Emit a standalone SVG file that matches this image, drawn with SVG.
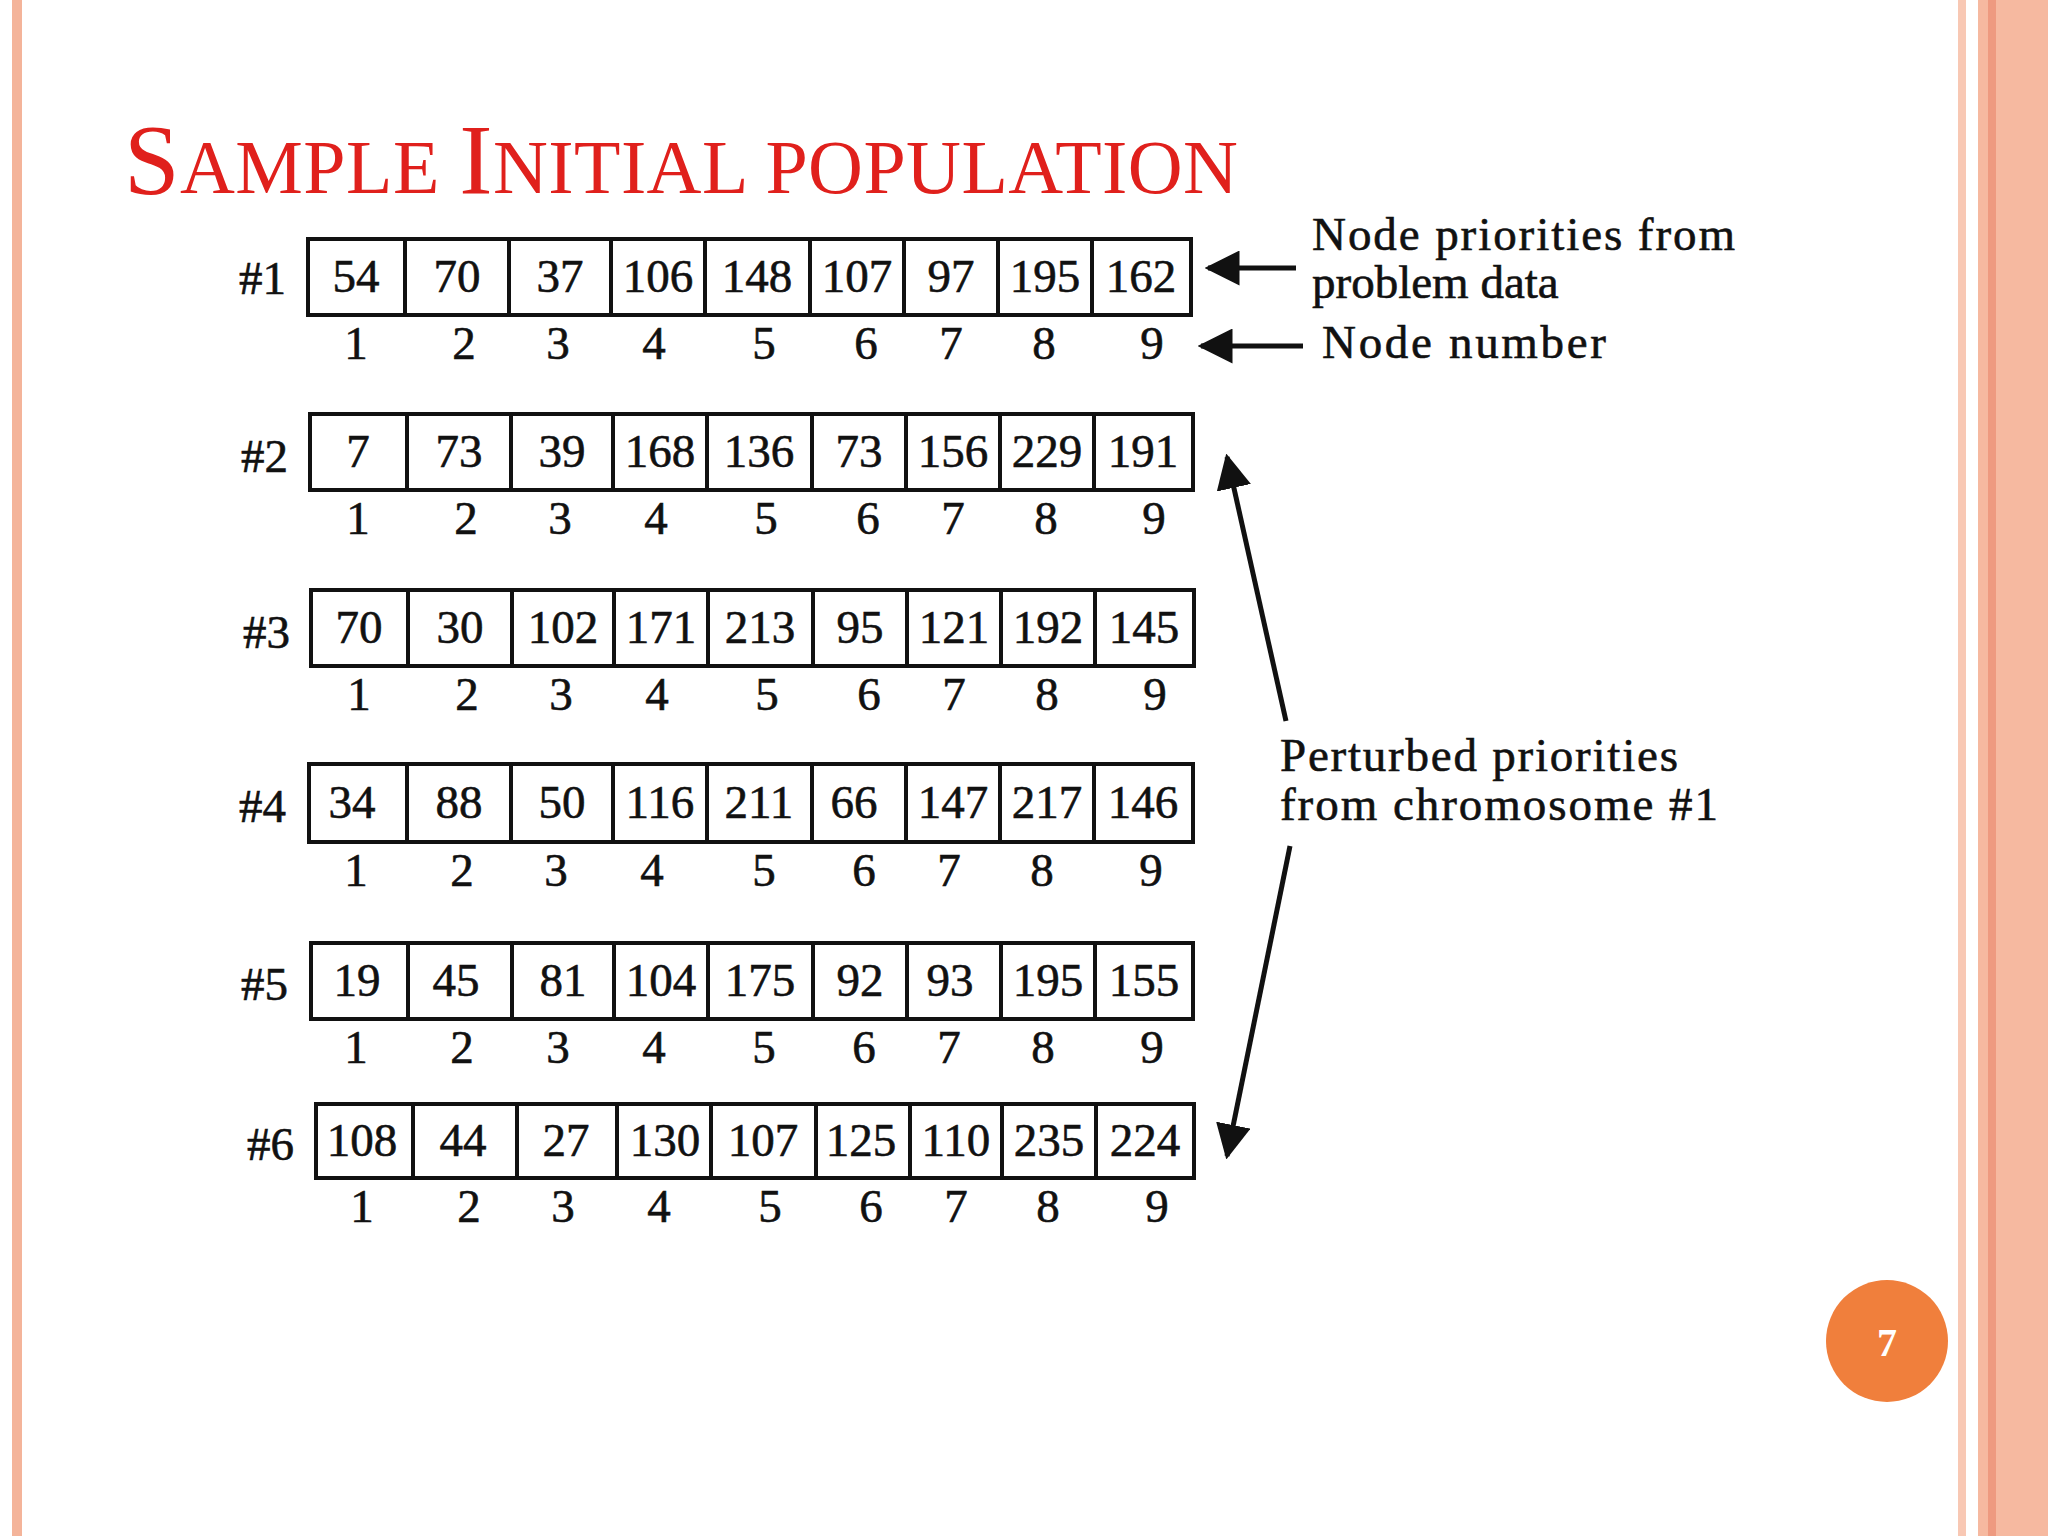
<svg xmlns="http://www.w3.org/2000/svg" width="2048" height="1536" viewBox="0 0 2048 1536">
<style>
.t{font-family:"Liberation Serif",serif;font-size:47px;fill:#111;text-anchor:middle;stroke:#111;stroke-width:0.6}
.l{font-family:"Liberation Serif",serif;font-size:47px;fill:#111;stroke:#111;stroke-width:0.6}
.c{fill:#fff;stroke:#111;stroke-width:4}
.a{stroke:#111;stroke-width:5;fill:none}
</style>
<defs><marker id="ah" viewBox="0 0 10 10" refX="9" refY="5" markerWidth="7" markerHeight="7" orient="auto"><path d="M0,0L10,5L0,10z" fill="#111"/></marker></defs>
<rect width="2048" height="1536" fill="#fff"/>
<rect x="12" y="0" width="10" height="1536" fill="#f4b49a"/>
<rect x="1958" y="0" width="8" height="1536" fill="#f8c8b4"/>
<rect x="1978" y="0" width="70" height="1536" fill="#f6b9a0"/>
<rect x="1988" y="0" width="8" height="1536" fill="#ee9a80"/>
<text x="124" y="193" font-family="Liberation Serif,serif" fill="#e0201c" font-size="100" textLength="1114" lengthAdjust="spacing">S<tspan font-size="76">AMPLE </tspan>I<tspan font-size="76">NITIAL POPULATION</tspan></text>
<g id="row1"><text class="l" x="239" y="294">#1</text>
<rect class="c" x="308" y="239" width="883" height="76"/>
<path class="a" d="M405,239V315M509,239V315M611,239V315M705,239V315M810,239V315M904,239V315M998,239V315M1092,239V315" style="stroke-width:4"/>
<text class="t" y="292"><tspan x="356">54</tspan><tspan x="457">70</tspan><tspan x="560">37</tspan><tspan x="658">106</tspan><tspan x="757">148</tspan><tspan x="857">107</tspan><tspan x="951">97</tspan><tspan x="1045">195</tspan><tspan x="1141">162</tspan></text>
<text class="t" y="359"><tspan x="356">1</tspan><tspan x="464">2</tspan><tspan x="558">3</tspan><tspan x="654">4</tspan><tspan x="764">5</tspan><tspan x="866">6</tspan><tspan x="951">7</tspan><tspan x="1044">8</tspan><tspan x="1152">9</tspan></text></g>
<g id="row2"><text class="l" x="241" y="472">#2</text>
<rect class="c" x="310" y="414" width="883" height="76"/>
<path class="a" d="M407,414V490M511,414V490M613,414V490M707,414V490M812,414V490M906,414V490M1000,414V490M1094,414V490" style="stroke-width:4"/>
<text class="t" y="467"><tspan x="358">7</tspan><tspan x="459">73</tspan><tspan x="562">39</tspan><tspan x="660">168</tspan><tspan x="759">136</tspan><tspan x="859">73</tspan><tspan x="953">156</tspan><tspan x="1047">229</tspan><tspan x="1143">191</tspan></text>
<text class="t" y="534"><tspan x="358">1</tspan><tspan x="466">2</tspan><tspan x="560">3</tspan><tspan x="656">4</tspan><tspan x="766">5</tspan><tspan x="868">6</tspan><tspan x="953">7</tspan><tspan x="1046">8</tspan><tspan x="1154">9</tspan></text></g>
<g id="row3"><text class="l" x="243" y="648">#3</text>
<rect class="c" x="311" y="590" width="883" height="76"/>
<path class="a" d="M408,590V666M512,590V666M614,590V666M708,590V666M813,590V666M907,590V666M1001,590V666M1095,590V666" style="stroke-width:4"/>
<text class="t" y="643"><tspan x="359">70</tspan><tspan x="460">30</tspan><tspan x="563">102</tspan><tspan x="661">171</tspan><tspan x="760">213</tspan><tspan x="860">95</tspan><tspan x="954">121</tspan><tspan x="1048">192</tspan><tspan x="1144">145</tspan></text>
<text class="t" y="710"><tspan x="359">1</tspan><tspan x="467">2</tspan><tspan x="561">3</tspan><tspan x="657">4</tspan><tspan x="767">5</tspan><tspan x="869">6</tspan><tspan x="954">7</tspan><tspan x="1047">8</tspan><tspan x="1155">9</tspan></text></g>
<g id="row4"><text class="l" x="239" y="822">#4</text>
<rect class="c" x="309" y="764" width="884" height="78"/>
<path class="a" d="M407,764V842M511,764V842M613,764V842M707,764V842M812,764V842M906,764V842M1000,764V842M1094,764V842" style="stroke-width:4"/>
<text class="t" y="818"><tspan x="352">34</tspan><tspan x="459">88</tspan><tspan x="562">50</tspan><tspan x="660">116</tspan><tspan x="759">211</tspan><tspan x="854">66</tspan><tspan x="953">147</tspan><tspan x="1047">217</tspan><tspan x="1143">146</tspan></text>
<text class="t" y="886"><tspan x="356">1</tspan><tspan x="462">2</tspan><tspan x="556">3</tspan><tspan x="652">4</tspan><tspan x="764">5</tspan><tspan x="864">6</tspan><tspan x="949">7</tspan><tspan x="1042">8</tspan><tspan x="1151">9</tspan></text></g>
<g id="row5"><text class="l" x="241" y="1000">#5</text>
<rect class="c" x="311" y="943" width="882" height="76"/>
<path class="a" d="M408,943V1019M512,943V1019M614,943V1019M708,943V1019M813,943V1019M907,943V1019M1001,943V1019M1095,943V1019" style="stroke-width:4"/>
<text class="t" y="996"><tspan x="357">19</tspan><tspan x="456">45</tspan><tspan x="563">81</tspan><tspan x="661">104</tspan><tspan x="760">175</tspan><tspan x="860">92</tspan><tspan x="950">93</tspan><tspan x="1048">195</tspan><tspan x="1144">155</tspan></text>
<text class="t" y="1063"><tspan x="356">1</tspan><tspan x="462">2</tspan><tspan x="558">3</tspan><tspan x="654">4</tspan><tspan x="764">5</tspan><tspan x="864">6</tspan><tspan x="949">7</tspan><tspan x="1043">8</tspan><tspan x="1152">9</tspan></text></g>
<g id="row6"><text class="l" x="247" y="1160">#6</text>
<rect class="c" x="316" y="1104" width="878" height="74"/>
<path class="a" d="M413,1104V1178M517,1104V1178M617,1104V1178M711,1104V1178M816,1104V1178M910,1104V1178M1002,1104V1178M1096,1104V1178" style="stroke-width:4"/>
<text class="t" y="1156"><tspan x="362">108</tspan><tspan x="463">44</tspan><tspan x="566">27</tspan><tspan x="665">130</tspan><tspan x="763">107</tspan><tspan x="861">125</tspan><tspan x="956">110</tspan><tspan x="1049">235</tspan><tspan x="1145">224</tspan></text>
<text class="t" y="1222"><tspan x="362">1</tspan><tspan x="469">2</tspan><tspan x="563">3</tspan><tspan x="659">4</tspan><tspan x="770">5</tspan><tspan x="871">6</tspan><tspan x="956">7</tspan><tspan x="1048">8</tspan><tspan x="1157">9</tspan></text></g>
<g id="notes">
<text class="l" x="1312" y="250" textLength="423">Node priorities from</text>
<text class="l" x="1312" y="298">problem data</text>
<text class="l" x="1322" y="358" textLength="284">Node number</text>
<text class="l" x="1280" y="771" textLength="398">Perturbed priorities</text>
<text class="l" x="1280" y="820" textLength="438">from chromosome #1</text>
</g>
<g id="connectors">
<line class="a" x1="1296" y1="268" x2="1208" y2="268" marker-end="url(#ah)"/>
<line class="a" x1="1303" y1="346" x2="1201" y2="346" marker-end="url(#ah)"/>
<line class="a" x1="1286" y1="721" x2="1227" y2="457" marker-end="url(#ah)"/>
<line class="a" x1="1290" y1="846" x2="1227" y2="1156" marker-end="url(#ah)"/>
</g>
<g id="page"><circle cx="1887" cy="1341" r="61" fill="#f07f3c"/>
<text x="1887" y="1356" font-family="Liberation Serif,serif" font-weight="bold" font-size="40" fill="#fff" text-anchor="middle">7</text></g>
</svg>
